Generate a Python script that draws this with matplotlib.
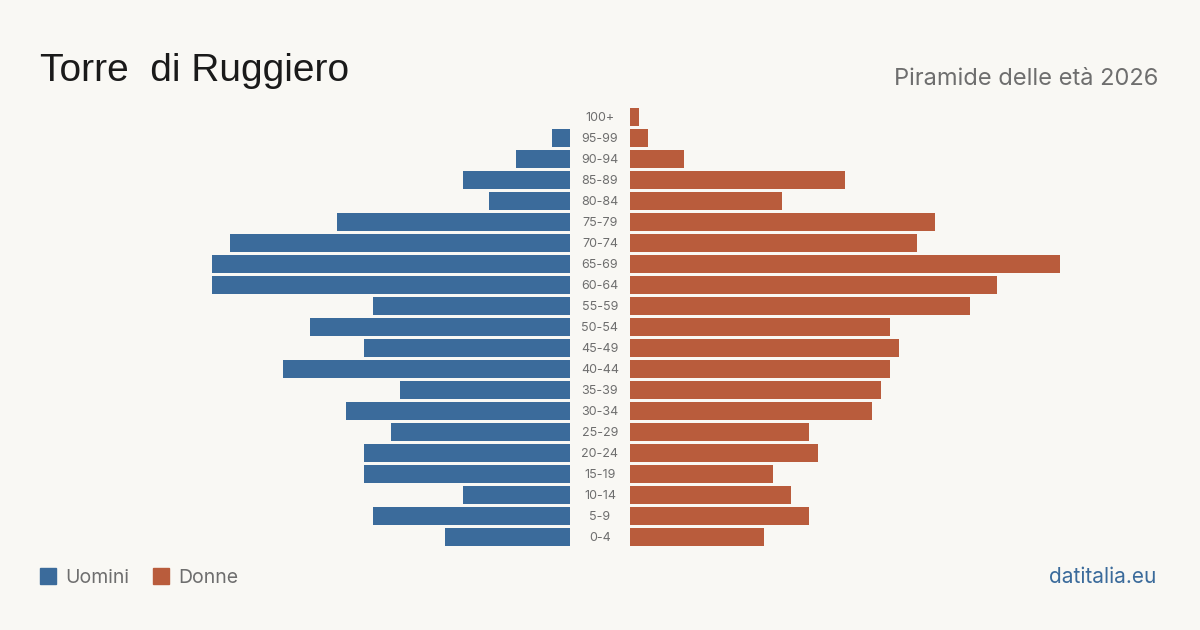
import matplotlib
matplotlib.use("Agg")
import matplotlib.pyplot as plt
from matplotlib.patches import Rectangle

age_groups = ["100+", "95-99", "90-94", "85-89", "80-84", "75-79", "70-74", "65-69",
              "60-64", "55-59", "50-54", "45-49", "40-44", "35-39", "30-34", "25-29",
              "20-24", "15-19", "10-14", "5-9", "0-4"]
men = [0, 2, 6, 12, 9, 26, 38, 40, 40, 22, 29, 23, 32, 19, 25, 20, 23, 23, 12, 22, 14]
women = [1, 2, 6, 24, 17, 34, 32, 48, 41, 38, 29, 30, 29, 28, 27, 20, 21, 16, 18, 20, 15]

title = "Torre  di Ruggiero"
subtitle = "Piramide delle età 2026"
legend_labels = ["Uomini", "Donne"]
source = "datitalia.eu"

BG = "#f9f8f4"
BLUE = "#3b6b9b"
ORANGE = "#b95c3c"
GRAY = "#6e6e6e"

W, H = 1200, 630
fig = plt.figure(figsize=(12, 6.3), dpi=100, facecolor=BG)

xmax = max(max(men), max(women))
n = len(age_groups)
ypos = list(range(n - 1, -1, -1))  # top row first

bottom = (H - 547.5) / H
height = 441 / H
ax_l = fig.add_axes([140 / W, bottom, 430 / W, height])
ax_r = fig.add_axes([630 / W, bottom, 430 / W, height])
for ax in (ax_l, ax_r):
    ax.set_facecolor("none")
    ax.set_ylim(-0.5, n - 0.5)
    ax.axis("off")
ax_l.set_xlim(xmax, 0)
ax_r.set_xlim(0, xmax)

ax_l.barh(ypos, men, height=0.81, color=BLUE)
ax_r.barh(ypos, women, height=0.81, color=ORANGE)

for label, y in zip(age_groups, ypos):
    yf = bottom + (y + 0.5) / n * height - 0.8 / H
    fig.text(600 / W, yf, label, ha="center", va="center", fontsize=9,
             color=GRAY, family="Inter")

fig.text(40 / W, 1 - 81 / H, title, ha="left", va="baseline", fontsize=28,
         color="#1a1a1a", family="Liberation Sans")
fig.text(1158 / W, 1 - 85 / H, subtitle, ha="right", va="baseline", fontsize=17,
         color=GRAY, family="Inter")

# legend
for xs, col, lab in [(40, BLUE, legend_labels[0]), (153, ORANGE, legend_labels[1])]:
    fig.patches.append(Rectangle((xs / W, 1 - 584 / H), 16 / W, 16 / H,
                                 transform=fig.transFigure, color=col))
    fig.text((xs + 25) / W, 1 - 583 / H, lab, ha="left", va="baseline",
             fontsize=14, color=GRAY, family="Inter")

fig.text(1156 / W, 1 - 583 / H, source, ha="right", va="baseline", fontsize=15,
         color=BLUE, family="Inter")

fig.savefig("out.png", dpi=100, facecolor=BG)
